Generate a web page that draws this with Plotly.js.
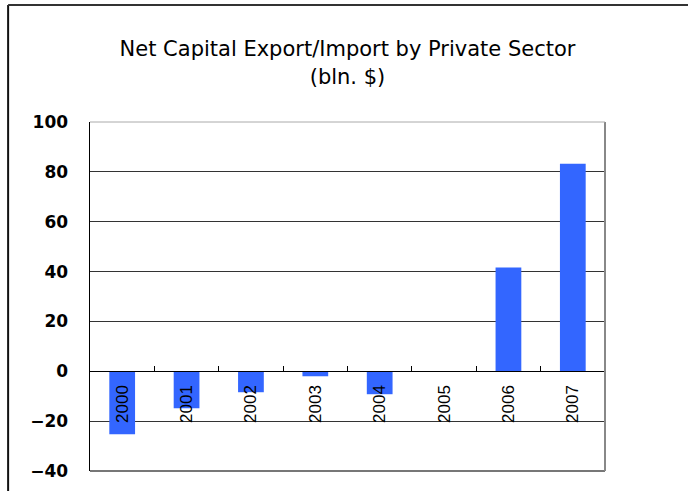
<!DOCTYPE html>
<html>
<head>
<meta charset="utf-8">
<script src="https://cdn.plot.ly/plotly-3.0.1.min.js"></script>
<style>
html,body{margin:0;padding:0;background:#fff;}
#chart{width:688px;height:491px;}
</style>
</head>
<body>
<div id="chart"></div>
<script>
const years = ['2000','2001','2002','2003','2004','2005','2006','2007'];
const netFlow = [-25.3, -14.8, -8.4, -2.0, -9.2, 0, 41.6, 83.3];
const yTicks = [-40, -20, 0, 20, 40, 60, 80, 100];
const yRange = [-40, 100];
const titleText = 'Net Capital Export/Import by Private Sector<br>(bln. $)';

const zeroPos = (0 - yRange[0]) / (yRange[1] - yRange[0]);

const trace = {
  type: 'bar',
  x: years,
  y: netFlow,
  marker: {color: '#3366FF', line: {width: 0}},
  hoverinfo: 'none'
};

const layout = {
  width: 688, height: 491,
  margin: {l: 90, r: 83, t: 122, b: 20, pad: 0},
  paper_bgcolor: '#fff', plot_bgcolor: '#fff',
  showlegend: false,
  bargap: 0.6,
  title: {
    text: titleText,
    font: {family: 'DejaVu Sans', size: 21, color: '#000'},
    x: 0.5, xref: 'paper', xanchor: 'center',
    y: 0.885, yref: 'container', yanchor: 'top'
  },
  xaxis: {
    type: 'category',
    anchor: 'free', position: zeroPos,
    showline: true, linecolor: '#000', linewidth: 1,
    ticks: 'inside', ticklen: 5, tickcolor: '#000', tickwidth: 1,
    tickson: 'boundaries',
    tickangle: -90,
    ticklabelstandoff: 6,
    tickfont: {family: 'Liberation Sans, Arial', size: 17, color: '#000'},
    showgrid: false, zeroline: false, fixedrange: true
  },
  yaxis: {
    range: yRange,
    tickvals: yTicks,
    ticks: '',
    showline: true, linecolor: '#000', linewidth: 1.5,
    showgrid: true, gridcolor: '#333', gridwidth: 1,
    zeroline: false,
    ticklabelstandoff: 17,
    tickfont: {family: 'DejaVu Sans', size: 17, color: '#000', weight: 'bold'},
    fixedrange: true
  },
  shapes: [
    {type: 'line', xref: 'paper', yref: 'paper', x0: 0, x1: 1, y0: 0, y1: 0, line: {color: '#777', width: 2}},
    {type: 'line', xref: 'paper', yref: 'paper', x0: 1, x1: 1, y0: 0, y1: 1, line: {color: '#888', width: 2}},
    {type: 'line', xref: 'paper', yref: 'paper', x0: 0, x1: 1, y0: 1, y1: 1, line: {color: '#aaa', width: 1}},
    {type: 'line', xref: 'paper', yref: 'paper', x0: -0.159, x1: -0.159, y0: -0.1, y1: 1.335, line: {color: '#111', width: 2}},
    {type: 'line', xref: 'paper', yref: 'paper', x0: -0.159, x1: 1.2, y0: 1.335, y1: 1.335, line: {color: '#333', width: 2}}
  ]
};

Plotly.newPlot('chart', [trace], layout, {displayModeBar: false, staticPlot: true});
</script>
</body>
</html>
